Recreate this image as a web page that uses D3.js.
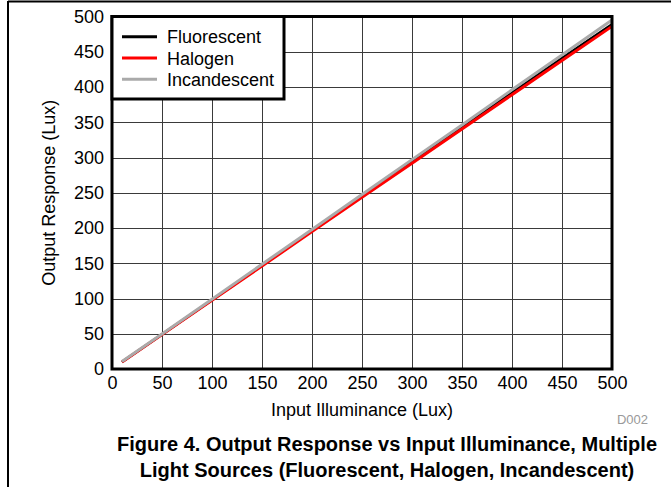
<!DOCTYPE html>
<html>
<head>
<meta charset="utf-8">
<script src="https://cdn.jsdelivr.net/npm/d3@7"></script>
<style>
  body { margin: 0; background: #fff; }
  svg { display: block; font-family: "Liberation Sans", Arial, sans-serif; }
</style>
</head>
<body>
<div id="chart"></div>
<script>
// data
let inputLux = [10, 50, 100, 150, 200, 250, 300, 350, 400, 450, 500];
let fluorescent = [10, 49, 98, 147, 196, 245, 294, 343, 392, 441, 489];
let halogen = [10, 48.8, 97.5, 146, 195, 243.5, 292, 340.5, 389, 437.5, 486];
let incandescent = [10.5, 49.5, 99, 148.5, 198, 247.5, 297, 346, 396, 445.5, 495];
let seriesNames = ["Fluorescent", "Halogen", "Incandescent"];
let seriesColors = ["#000000", "#ff0000", "#aaaaaa"];
let tickValues = [0, 50, 100, 150, 200, 250, 300, 350, 400, 450, 500];

let width = 671, height = 487;
let plot = { left: 112, right: 612, top: 16.5, bottom: 369 };

let svg = d3.select("#chart").append("svg")
  .attr("width", width)
  .attr("height", height);

// outer frame (top and left only)
svg.append("line").attr("x1", 8).attr("x2", width).attr("y1", 1.5).attr("y2", 1.5)
  .attr("stroke", "#000").attr("stroke-width", 2);
svg.append("line").attr("x1", 8).attr("x2", 8).attr("y1", 1).attr("y2", height)
  .attr("stroke", "#000").attr("stroke-width", 2);

let xScale = d3.scaleLinear().domain([0, 500]).range([plot.left, plot.right]);
let yScale = d3.scaleLinear().domain([0, 500]).range([plot.bottom, plot.top]);

// grid
svg.append("g").selectAll("line").data(tickValues.slice(1, -1)).enter().append("line")
  .attr("x1", (d) => Math.round(xScale(d)) + 0.5)
  .attr("x2", (d) => Math.round(xScale(d)) + 0.5)
  .attr("y1", plot.top).attr("y2", plot.bottom)
  .attr("stroke", "#3a3a3a").attr("stroke-width", 1);
svg.append("g").selectAll("line").data(tickValues.slice(1, -1)).enter().append("line")
  .attr("y1", (d) => Math.round(yScale(d)) + 0.5)
  .attr("y2", (d) => Math.round(yScale(d)) + 0.5)
  .attr("x1", plot.left).attr("x2", plot.right)
  .attr("stroke", "#3a3a3a").attr("stroke-width", 1);

// axes (labels only)
let xAxis = d3.axisBottom(xScale).tickValues(tickValues).tickSize(0).tickPadding(7);
let yAxis = d3.axisLeft(yScale).tickValues(tickValues).tickSize(0).tickPadding(8);

let gx = svg.append("g")
  .attr("transform", "translate(0," + plot.bottom + ")")
  .call(xAxis);
let gy = svg.append("g")
  .attr("transform", "translate(" + plot.left + ",0)")
  .call(yAxis);
[gx, gy].forEach((g) => {
  g.select(".domain").remove();
  g.selectAll("text")
    .attr("font-family", "Liberation Sans, Arial, sans-serif")
    .attr("font-size", 18)
    .attr("fill", "#000");
});

// series
let allSeries = [fluorescent, halogen, incandescent];
let widths = [2.5, 3, 3];
let line = d3.line()
  .x((d, i) => xScale(inputLux[i]))
  .y((d) => yScale(d));

allSeries.forEach((s, k) => {
  svg.append("path")
    .datum(s)
    .attr("d", line)
    .attr("fill", "none")
    .attr("stroke", seriesColors[k])
    .attr("stroke-width", widths[k]);
});

// plot frame
svg.append("rect")
  .attr("x", plot.left).attr("y", plot.top)
  .attr("width", plot.right - plot.left)
  .attr("height", plot.bottom - plot.top)
  .attr("fill", "none").attr("stroke", "#000").attr("stroke-width", 3);

// legend
let legend = svg.append("g").attr("id", "legend");
legend.append("rect")
  .attr("x", plot.left).attr("y", plot.top)
  .attr("width", 172).attr("height", 82.5)
  .attr("fill", "#fff").attr("stroke", "#000").attr("stroke-width", 3);
seriesNames.forEach((name, i) => {
  let y = 36.7 + i * 21.3;
  legend.append("line")
    .attr("x1", 122).attr("x2", 157)
    .attr("y1", y).attr("y2", y)
    .attr("stroke", seriesColors[i]).attr("stroke-width", 3);
  legend.append("text")
    .attr("x", 167).attr("y", y + 6.5)
    .attr("font-size", 18)
    .text(name);
});

// axis titles
svg.append("text")
  .attr("x", (plot.left + plot.right) / 2).attr("y", 416)
  .attr("text-anchor", "middle").attr("font-size", 18)
  .text("Input Illuminance (Lux)");
svg.append("text")
  .attr("transform", "translate(55," + (plot.top + plot.bottom) / 2 + ") rotate(-90)")
  .attr("text-anchor", "middle").attr("font-size", 18)
  .text("Output Response (Lux)");

svg.append("text")
  .attr("x", 648).attr("y", 424)
  .attr("text-anchor", "end").attr("font-size", 13).attr("fill", "#999")
  .text("D002");

// caption
let caption = ["Figure 4. Output Response vs Input Illuminance, Multiple",
  "Light Sources (Fluorescent, Halogen, Incandescent)"];
caption.forEach((t, i) => {
  svg.append("text")
    .attr("x", 387).attr("y", 451 + i * 26)
    .attr("text-anchor", "middle").attr("font-size", 20).attr("font-weight", "bold")
    .text(t);
});
</script>
</body>
</html>
